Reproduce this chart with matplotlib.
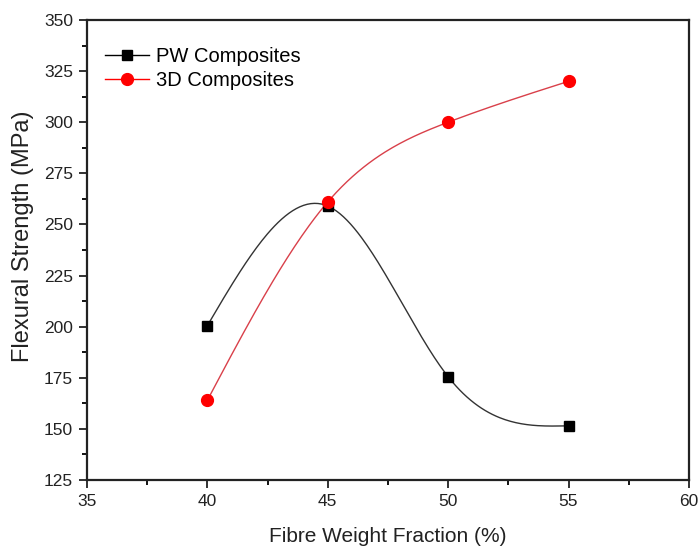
import numpy as np
import matplotlib
matplotlib.use("Agg")
import matplotlib.pyplot as plt
from matplotlib.ticker import MultipleLocator

plt.rcParams["font.family"] = ["Liberation Sans", "DejaVu Sans"]

# Data
fibre_fraction = [40, 45, 50, 55]
pw_strength = [200.5, 259, 175.5, 151.5]
d3_strength = [164, 261, 300, 320]


def natural_spline(x, y, n=200):
    # natural cubic spline through the points (used only to draw the smooth line)
    x = np.asarray(x, float)
    y = np.asarray(y, float)
    k = len(x)
    h = np.diff(x)
    A = np.zeros((k, k))
    b = np.zeros(k)
    A[0, 0] = A[-1, -1] = 1
    for i in range(1, k - 1):
        A[i, i - 1] = h[i - 1]
        A[i, i] = 2 * (h[i - 1] + h[i])
        A[i, i + 1] = h[i]
        b[i] = 6 * ((y[i + 1] - y[i]) / h[i] - (y[i] - y[i - 1]) / h[i - 1])
    M = np.linalg.solve(A, b)
    xs = np.linspace(x[0], x[-1], n)
    idx = np.clip(np.searchsorted(x, xs) - 1, 0, k - 2)
    x0, x1 = x[idx], x[idx + 1]
    hh = x1 - x0
    a = (x1 - xs) / hh
    c = (xs - x0) / hh
    ys = (a * y[idx] + c * y[idx + 1]
          + ((a ** 3 - a) * M[idx] + (c ** 3 - c) * M[idx + 1]) * hh ** 2 / 6)
    return xs, ys


fig = plt.figure(figsize=(6.98, 5.49), dpi=100)
ax = fig.add_axes([0.1246, 0.1257, 0.8624, 0.8379])

xs, ys = natural_spline(fibre_fraction, pw_strength)
ax.plot(xs, ys, color="#333333", lw=1.0)
xs, ys = natural_spline(fibre_fraction, d3_strength)
ax.plot(xs, ys, color="#d9404a", lw=1.0)

ax.plot(fibre_fraction, pw_strength, "s", color="black", ms=7.5, zorder=3)
ax.plot(fibre_fraction, d3_strength, "o", color="#ff0000", ms=8.5, zorder=4)

# legend handles: line + marker
ax.plot([], [], "-s", color="black", ms=7.5, lw=1.0, label="PW Composites")
ax.plot([], [], "-o", color="#ff0000", ms=8.5, lw=1.0, mec="#ff0000",
        label="3D Composites")
leg = ax.legend(loc="upper left", frameon=False, fontsize=14.5,
                handlelength=2.2, handletextpad=0.35, labelspacing=0.25,
                bbox_to_anchor=(0.0, 0.98))

ax.set_xlim(35, 60)
ax.set_ylim(125, 350)
ax.xaxis.set_major_locator(MultipleLocator(5))
ax.xaxis.set_minor_locator(MultipleLocator(2.5))
ax.yaxis.set_major_locator(MultipleLocator(25))
ax.yaxis.set_minor_locator(MultipleLocator(12.5))
ax.tick_params(which="major", direction="out", length=6, width=1.3,
               labelsize=12.5, colors="#222222", pad=4)
ax.tick_params(which="minor", direction="out", length=3.5, width=1.3)
for s in ax.spines.values():
    s.set_linewidth(1.6)
    s.set_color("#222222")

ax.set_xlabel("Fibre Weight Fraction (%)", fontsize=15, labelpad=13,
              color="#222222")
ax.set_ylabel("Flexural Strength (MPa)", fontsize=17, color="#222222")
ax.yaxis.set_label_coords(-0.088, 0.53)

fig.savefig("out.png", dpi=100)
